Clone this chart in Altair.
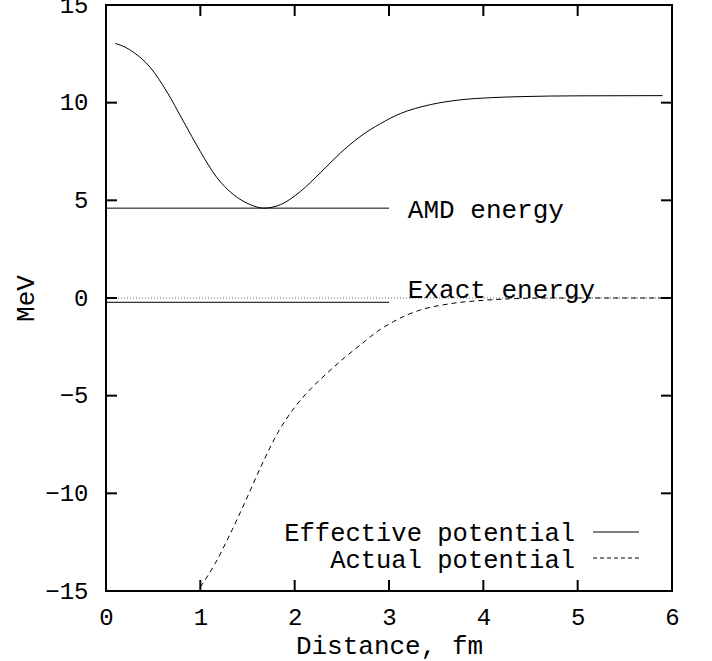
import altair as alt
import pandas as pd

# ---- data ----
x_eff = [0.1, 0.2, 0.3, 0.47, 0.64, 0.82, 1.0, 1.17, 1.35, 1.53, 1.67, 1.85, 2.06,
         2.27, 2.48, 2.69, 2.91, 3.12, 3.44, 3.75, 4.1, 4.4, 5.0, 5.9]
v_eff = [13.03, 12.85, 12.55, 11.8, 10.6, 9.05, 7.5, 6.2, 5.3, 4.78, 4.6, 4.78, 5.45,
         6.4, 7.4, 8.25, 8.93, 9.44, 9.9, 10.14, 10.26, 10.31, 10.35, 10.36]

x_act = [1.0, 1.156, 1.30, 1.474, 1.65, 1.827, 2.0, 2.18, 2.355, 2.53, 2.71, 2.88, 3.05,
         3.29, 3.65, 4.0, 4.35, 4.7, 5.3, 5.9]
v_act = [-14.8, -13.6, -12.24, -10.45, -8.55, -6.85, -5.6, -4.6, -3.8, -3.05, -2.35, -1.7, -1.2,
         -0.68, -0.29, -0.12, -0.03, 0.0, 0.0, 0.0]

amd_energy = 4.6
exact_energy = -0.22
level_span = [0, 3]
zero_span = [0, 6]

label_texts = ["AMD energy", "Exact energy"]
label_x = [3.2, 3.2]
label_y = [4.5, 0.4]

legend_texts = ["Effective potential", "Actual potential"]

x_ticks = [0, 1, 2, 3, 4, 5, 6]
y_ticks = [-15, -10, -5, 0, 5, 10, 15]

# ---- layout ----
W, H = 566, 586
FONT = "Liberation Mono"

xs = alt.Scale(domain=[0, 6], nice=False, zero=False)
ys = alt.Scale(domain=[-15, 15], nice=False, zero=False)

xaxis = alt.Axis(values=x_ticks, title="Distance, fm", grid=False, ticks=False, domain=False,
                 labelFont=FONT, labelFontSize=24, labelColor="black", labelPadding=14,
                 labelFlush=False, labelOverlap=False,
                 titleFont=FONT, titleFontSize=26, titleFontWeight="normal", titleColor="black",
                 titleX=W / 2, titleY=54, titleBaseline="middle", titleAlign="center")
yaxis = alt.Axis(values=y_ticks, title="MeV", grid=False, ticks=False, domain=False,
                 labelFont=FONT, labelFontSize=24, labelColor="black", labelPadding=18,
                 labelFlush=False, labelOverlap=False, labelBaseline="middle",
                 titleFont=FONT, titleFontSize=26, titleFontWeight="normal", titleColor="black",
                 titleX=-81, titleY=H / 2, titleAngle=270, titleBaseline="middle",
                 titleAlign="center")

X = lambda f: alt.X(f, type="quantitative", scale=xs, axis=xaxis)
Y = lambda f: alt.Y(f, type="quantitative", scale=ys, axis=yaxis)

eff_df = pd.DataFrame({"x": x_eff, "v": v_eff})
act_df = pd.DataFrame({"x": x_act, "v": v_act})
zero_df = pd.DataFrame({"x": zero_span, "v": [0, 0]})
amd_df = pd.DataFrame({"x": level_span, "v": [amd_energy] * 2})
exact_df = pd.DataFrame({"x": level_span, "v": [exact_energy] * 2})
lab_df = pd.DataFrame({"x": label_x, "v": label_y, "t": label_texts})
xt_df = pd.DataFrame({"x": x_ticks[1:-1]})
yt_df = pd.DataFrame({"v": y_ticks[1:-1]})

zero = alt.Chart(zero_df).mark_line(color="#666", strokeWidth=1, strokeDash=[1, 2]).encode(
    x=X("x"), y=Y("v"))
eff = alt.Chart(eff_df).mark_line(color="black", strokeWidth=1, interpolate="monotone").encode(
    x=X("x"), y=Y("v"))
act = alt.Chart(act_df).mark_line(color="black", strokeWidth=1, interpolate="monotone",
                                  strokeDash=[5, 4]).encode(x=X("x"), y=Y("v"))
amd = alt.Chart(amd_df).mark_line(color="black", strokeWidth=1).encode(x=X("x"), y=Y("v"))
exact = alt.Chart(exact_df).mark_line(color="black", strokeWidth=1).encode(x=X("x"), y=Y("v"))
labels = alt.Chart(lab_df).mark_text(font=FONT, fontSize=26, align="left", baseline="middle",
                                     color="black").encode(x=X("x"), y=Y("v"), text="t:N")

# inside ticks on all four sides
tick_top = alt.Chart(xt_df).mark_rule(color="black", strokeWidth=2).encode(
    x=X("x"), y=alt.value(0), y2=alt.value(11))
tick_bot = alt.Chart(xt_df).mark_rule(color="black", strokeWidth=2).encode(
    x=X("x"), y=alt.value(H), y2=alt.value(H - 11))
tick_left = alt.Chart(yt_df).mark_rule(color="black", strokeWidth=2).encode(
    y=Y("v"), x=alt.value(0), x2=alt.value(11))
tick_right = alt.Chart(yt_df).mark_rule(color="black", strokeWidth=2).encode(
    y=Y("v"), x=alt.value(W), x2=alt.value(W - 11))

# key (gnuplot style: text then sample)
leg_df = pd.DataFrame({"t": legend_texts})
leg_text1 = alt.Chart(leg_df).transform_filter(alt.datum.t == legend_texts[0]).mark_text(
    font=FONT, fontSize=25.5, align="right", baseline="middle", color="black").encode(
    x=alt.value(469), y=alt.value(528), text="t:N")
leg_text2 = alt.Chart(leg_df).transform_filter(alt.datum.t == legend_texts[1]).mark_text(
    font=FONT, fontSize=25.5, align="right", baseline="middle", color="black").encode(
    x=alt.value(469), y=alt.value(555), text="t:N")
leg_line1 = alt.Chart(leg_df).transform_filter(alt.datum.t == legend_texts[0]).mark_rule(
    color="black", strokeWidth=1).encode(x=alt.value(487), x2=alt.value(533), y=alt.value(527))
leg_line2 = alt.Chart(leg_df).transform_filter(alt.datum.t == legend_texts[1]).mark_rule(
    color="black", strokeWidth=1, strokeDash=[4, 3]).encode(
    x=alt.value(487), x2=alt.value(533), y=alt.value(553))

chart = alt.layer(
    zero, eff, act, amd, exact, labels,
    tick_top, tick_bot, tick_left, tick_right,
    leg_text1, leg_text2, leg_line1, leg_line2,
).properties(
    width=W, height=H,
    autosize=alt.AutoSizeParams(type="none"),
    padding={"left": 106, "top": 5, "right": 40, "bottom": 70},
    background="white",
).configure_view(stroke="black", strokeWidth=2)

chart.save("out.html", embed_options={"renderer": "svg", "actions": False})
